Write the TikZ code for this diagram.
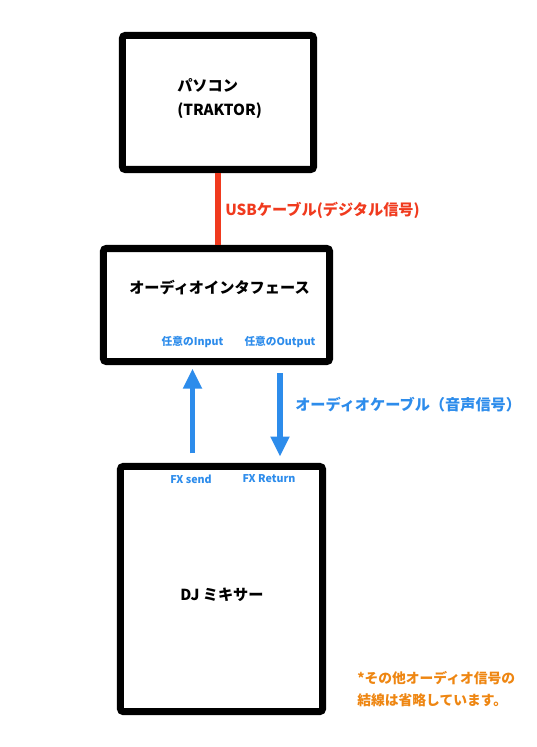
\documentclass[tikz,border=0pt]{standalone}
\usepackage{fontspec}
\setmainfont{Noto Sans CJK JP}
\usepackage{xcolor}
\usepackage{tikz}
\usetikzlibrary{arrows.meta,positioning,calc}

\definecolor{usbred}{RGB}{240,58,30}
\definecolor{sigblue}{RGB}{45,140,235}
\definecolor{noteorange}{RGB}{238,134,18}

\begin{document}
\begin{tikzpicture}[
  x=0.025cm, y=-0.025cm,
  font=\bfseries\fontsize{10.8}{17}\selectfont,
  every node/.style={align=center, inner sep=0pt},
  unitbox/.style={rectangle, rounded corners=2pt, draw=black, line width=5pt},
  portlbl/.style={text=sigblue, font=\bfseries\fontsize{7.6}{9}\selectfont},
  usbline/.style={draw=usbred, line width=4.3pt},
  sigarr/.style={-{Triangle[width=0.45cm,length=0.5cm]}, draw=sigblue, line width=3.6pt}
]
  \useasboundingbox (0,0) rectangle (537,747);

  % PC running TRAKTOR
  \node[unitbox, minimum width=4.775cm, minimum height=3.35cm] (pc) at (218,102.5) {};
  \node[anchor=west, align=left] (pctext) at (177,99) {パソコン\\(TRAKTOR)};

  % Audio interface
  \node[unitbox, minimum width=5.65cm, minimum height=2.825cm] (iface) at (216.5,305) {};
  \node (ifacetext) at (219.5,288) {オーディオインタフェース};
  \node[portlbl] (inlbl) at (192.5,342) {任意のInput};
  \node[portlbl] (outlbl) at (280,342) {任意のOutput};

  % DJ mixer
  \node[unitbox, minimum width=5.05cm, minimum height=6.125cm] (mixer) at (221.5,589) {};
  \node (mixertext) at (222,595) {DJ ミキサー};
  \node[portlbl] (sendlbl) at (191,479) {FX send};
  \node[portlbl] (retlbl) at (269,479) {FX Return};

  % Cable labels
  \node[anchor=west, text=usbred] (usblbl) at (225,210) {USBケーブル(デジタル信号)};
  \node[anchor=west, text=sigblue] (cablelbl) at (295,405) {オーディオケーブル（音声信号）};

  % Note
  \node[anchor=west, align=left, text=noteorange, font=\bfseries\fontsize{9.8}{15.6}\selectfont] (note) at (357,689)
    {*その他オーディオ信号の\\結線は省略しています。};

  % Connections
  \draw[usbline] (pc.south) -- (pc.south |- iface.north);
  \draw[sigarr, shorten <=0.24cm, shorten >=0.09cm] (inlbl |- mixer.north) -- (inlbl |- iface.south);
  \draw[sigarr, shorten <=0.21cm, shorten >=0.16cm] (outlbl |- iface.south) -- (outlbl |- mixer.north);

\end{tikzpicture}
\end{document}
